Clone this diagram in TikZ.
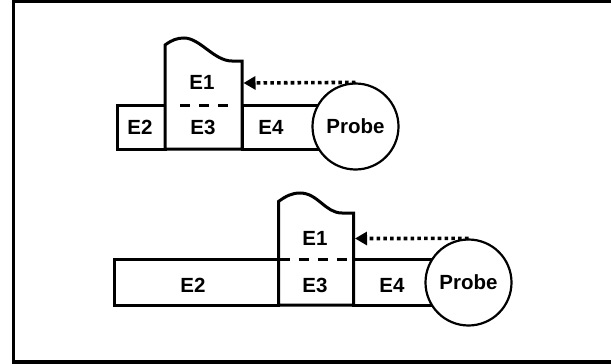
\documentclass[tikz,border=0pt]{standalone}
\usepackage{fontspec}
\setmainfont{Liberation Sans}
\usetikzlibrary{arrows.meta}
\tikzset{
  wall/.style={line width=3pt, line join=miter},
  lbl/.style={inner sep=0pt, font=\fontsize{20.5}{24}\selectfont\bfseries},
  probe/.style={circle, draw, fill=white, line width=2.2pt, minimum size=86pt,
    inner sep=0pt, font=\fontsize{20.5}{24}\selectfont\bfseries},
  cut/.style={line width=3pt, dash pattern=on 10pt off 9pt},
  beam/.style={line width=3.6pt, dash pattern=on 3.6pt off 3.2pt,
    -{Triangle[length=12pt,width=13pt]}},
}
\begin{document}
\begin{tikzpicture}[x=1pt,y=-1pt]
  \useasboundingbox (0,0) rectangle (611,364);
  % outer frame (runs off the right side)
  \draw[line width=3.5pt] (13.5,1.5) rectangle (640,362);

  % ---------- upper arrangement ----------
  \draw[wall] (117,105) rectangle (165,149);
  \draw[wall] (242,105) rectangle (355,149);
  \draw[wall, fill=white] (165,149) -- (165,45)
      .. controls (172,40) and (177,38) .. (184,38)
      .. controls (200,38) and (214,61) .. (232,61)
      -- (242,61) -- (242,149) -- cycle;
  \coordinate (cutAa) at (180,105);
  \coordinate (cutAb) at (229,105);
  \draw[cut] (cutAa) -- (cutAb);
  \node[probe] (probeA) at (355.5,126.5) {Probe};
  \coordinate (hitA) at (243.5,83);
  \draw[beam] (probeA.north) -- (hitA);
  \node[lbl] (eOneA)   at (202,82)  {E1};
  \node[lbl] (eTwoA)   at (140,127) {E2};
  \node[lbl] (eThreeA) at (203,127) {E3};
  \node[lbl] (eFourA)  at (271,127) {E4};

  % ---------- lower arrangement ----------
  \draw[wall] (114,259) rectangle (278.5,305);
  \draw[wall] (353.5,259) rectangle (468,305);
  \draw[wall, fill=white] (278.5,305) -- (278.5,201.5)
      .. controls (286,196) and (292,193) .. (300,193)
      .. controls (318,193) and (325,213) .. (342,213)
      -- (353.5,213) -- (353.5,305) -- cycle;
  \coordinate (cutBa) at (280,259);
  \coordinate (cutBb) at (352,259);
  \draw[cut] (cutBa) -- (cutBb);
  \node[probe] (probeB) at (468.5,282.5) {Probe};
  \coordinate (hitB) at (355,238.5);
  \draw[beam] (probeB.north) -- (hitB);
  \node[lbl] (eOneB)   at (315,238) {E1};
  \node[lbl] (eTwoB)   at (193,285) {E2};
  \node[lbl] (eThreeB) at (315,285) {E3};
  \node[lbl] (eFourB)  at (392,285) {E4};
\end{tikzpicture}
\end{document}
